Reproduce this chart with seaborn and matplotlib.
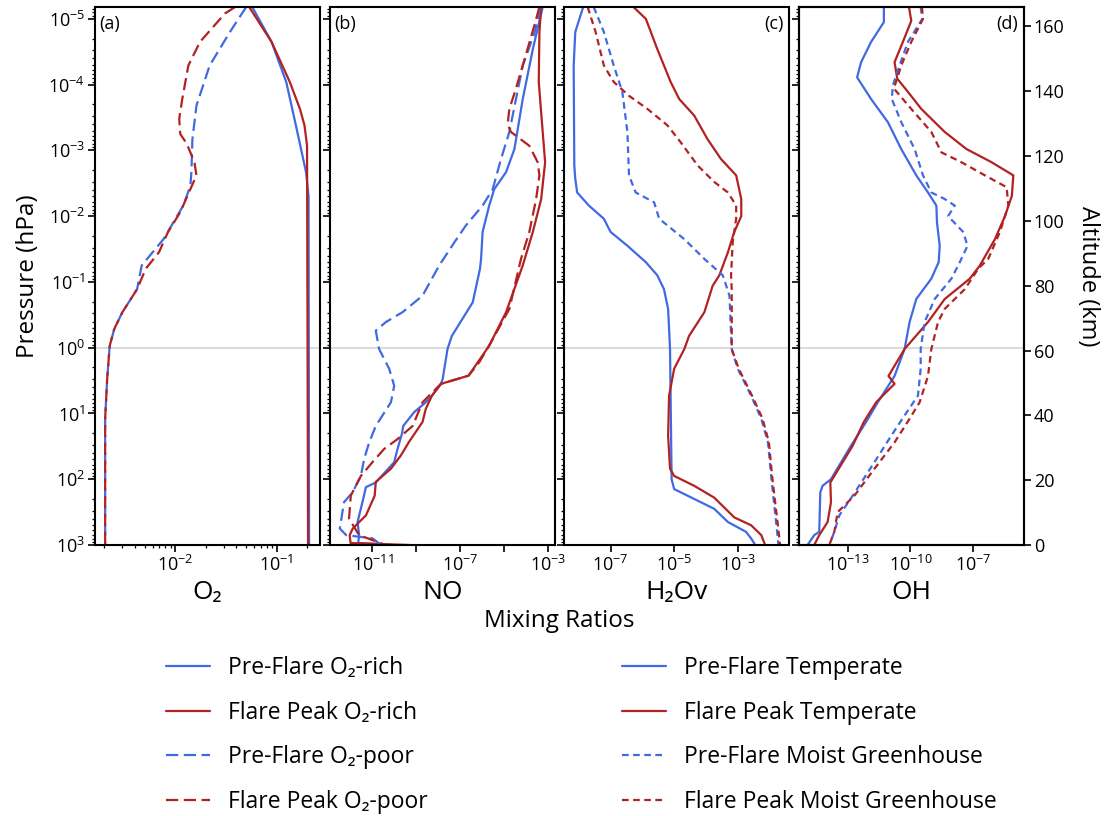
import numpy as np
import pandas as pd
import matplotlib
matplotlib.use("Agg")
import matplotlib.pyplot as plt
import seaborn as sns
from matplotlib.lines import Line2D
from matplotlib.ticker import FixedLocator, NullLocator, FixedFormatter

sns.set_theme(style="ticks")
FAMILY = ["Open Sans", "DejaVu Sans"]
plt.rcParams["font.family"] = FAMILY
plt.rcParams["mathtext.fontset"] = "custom"
plt.rcParams["mathtext.rm"] = "Open Sans"
plt.rcParams["mathtext.it"] = "Open Sans"
plt.rcParams["mathtext.default"] = "regular"
for key in ["text.color", "axes.labelcolor", "xtick.color", "ytick.color", "axes.edgecolor"]:
    plt.rcParams[key] = "black"

# ---------------- data (log10 of pressure in hPa, log10 of mixing ratio) ----------------
# (a) O2
o2_pre_rich_logp = [-5.18, -4.65, -4.04, -3.38, -2.67, -2.3, 3.0]
o2_pre_rich_logx = [-1.24, -1.05, -0.905, -0.81, -0.71, -0.685, -0.68]
o2_flare_rich_logp = [-5.18, -4.65, -4.04, -3.63, -3.38, -3.07, 3.0]
o2_flare_rich_logx = [-1.27, -1.05, -0.87, -0.77, -0.725, -0.70, -0.69]
o2_pre_poor_logp = [-5.18, -4.8, -4.29, -3.68, -3.17, -2.67, -2.46, -2.16, -1.65, -1.25,
                    -0.89, -0.54, -0.285, -0.03, 0.475, 1.08, 3.0]
o2_pre_poor_logx = [-1.30, -1.46, -1.66, -1.79, -1.83, -1.84, -1.85, -1.92, -2.115, -2.33,
                    -2.375, -2.52, -2.60, -2.645, -2.67, -2.69, -2.69]
o2_flare_poor_logp = [-5.18, -5.08, -4.65, -4.29, -3.78, -3.48, -3.25, -3.10, -2.82, -2.62,
                      -2.41, -2.06, -1.76, -1.45, -1.2, -0.89, -0.54, -0.285, -0.03, 0.475,
                      1.08, 3.0]
o2_flare_poor_logx = [-1.41, -1.51, -1.755, -1.87, -1.93, -1.96, -1.95, -1.885, -1.81, -1.79,
                      -1.85, -1.95, -2.07, -2.16, -2.29, -2.375, -2.52, -2.60, -2.645, -2.67,
                      -2.69, -2.69]

# (b) NO
no_pre_rich_logp = [-5.18, -4.54, -3.78, -3.02, -2.67, -2.41, -2.16, -1.76, -1.35, -1.2,
                    -0.69, -0.18, 0.02, 0.475, 0.55, 0.73, 0.83, 0.98, 1.19, 1.3,
                    1.54, 1.74, 2.05, 2.12, 2.35, 2.65, 2.85, 2.97, 3.0]
no_pre_rich_logx = [-3.24, -3.69, -4.15, -4.53, -4.91, -5.45, -5.68, -5.98, -6.05, -6.1,
                    -6.43, -7.38, -7.58, -7.80, -7.88, -8.29, -8.57, -9.1, -9.6, -9.65,
                    -9.86, -10.01, -10.85, -11.3, -11.46, -11.68, -11.61, -11.65, -10.0]
no_flare_rich_logp = [-5.18, -4.8, -4.04, -3.28, -2.82, -2.26, -1.76, -1.25, -0.54, -0.03,
                      0.425, 0.55, 0.73, 0.93, 1.13, 1.43, 1.64, 1.84, 2.04, 2.25,
                      2.55, 2.75, 2.85, 2.97, 3.0]
no_flare_rich_logx = [-3.31, -3.39, -3.42, -3.24, -3.13, -3.31, -3.69, -4.15, -4.91, -5.68,
                      -6.62, -7.88, -8.29, -8.57, -8.72, -9.33, -9.71, -10.16, -10.85, -10.9,
                      -11.3, -11.9, -12.04, -12.0, -9.3]
no_pre_poor_logp = [-5.18, -4.8, -4.29, -3.78, -3.28, -2.87, -2.41, -2.16, -1.86, -1.60,
                    -1.25, -0.79, -0.54, -0.39, -0.26, 0.02, 0.32, 0.58, 0.83, 1.19,
                    1.44, 1.69, 1.95, 2.2, 2.35, 2.75, 2.85, 2.9, 3.0]
no_pre_poor_logx = [-3.35, -3.6, -4.15, -4.46, -4.76, -5.14, -5.52, -5.98, -6.74, -7.27,
                    -7.96, -8.72, -9.63, -10.39, -10.85, -10.70, -10.24, -10.01, -10.16, -10.85,
                    -11.15, -11.38, -11.53, -11.91, -12.3, -12.49, -12.2, -11.0, -10.6]
no_flare_poor_logp = [-5.18, -4.9, -4.29, -3.94, -3.63, -3.40, -3.28, -3.07, -2.82, -2.62,
                      -2.26, -1.76, -1.35, -0.59, -0.08, 0.22, 0.425, 0.55, 0.83, 1.19,
                      1.39, 1.54, 1.74, 1.95, 2.25, 2.60, 2.85, 3.0]
no_flare_poor_logx = [-3.39, -3.62, -4.15, -4.46, -4.76, -4.84, -4.69, -3.85, -3.47, -3.39,
                      -3.54, -3.85, -4.23, -4.76, -5.6, -6.13, -6.62, -7.88, -8.72, -9.17,
                      -9.86, -10.47, -11.0, -11.53, -11.99, -12.07, -11.61, -10.4]

# (c) H2O vapour
h2o_pre_temp_logp = [-5.18, -4.80, -4.29, -2.77, -2.57, -2.36, -2.16, -1.96, -1.76, -1.55,
                     -1.30, -1.10, -0.89, -0.59, 0.02, 2.0, 2.15, 2.30, 2.45, 2.65,
                     2.80, 2.90, 3.0]
h2o_pre_temp_logx = [-7.86, -8.11, -8.16, -8.14, -8.11, -8.05, -7.68, -7.21, -7.0, -6.47,
                     -5.89, -5.53, -5.32, -5.19, -5.13, -5.08, -5.0, -4.37, -3.74, -3.31,
                     -2.74, -2.58, -2.45]
h2o_flare_temp_logp = [-5.18, -5.0, -4.54, -4.04, -3.78, -3.53, -3.17, -2.87, -2.62, -2.26,
                       -2.0, -1.76, -1.45, -1.10, -0.94, -0.54, -0.18, 0.02, 0.32, 0.73,
                       1.34, 1.84, 1.95, 2.10, 2.28, 2.58, 2.70, 2.85, 3.0]
h2o_flare_temp_logx = [-6.28, -5.89, -5.53, -5.11, -4.84, -4.37, -3.95, -3.53, -3.05, -2.89,
                       -2.89, -3.11, -3.31, -3.58, -3.79, -4.05, -4.53, -4.68, -5.0, -5.16,
                       -5.19, -5.13, -5.0, -4.37, -3.74, -3.11, -2.58, -2.26, -2.14]
h2o_pre_moist_logp = [-5.18, -4.80, -4.29, -3.89, -3.28, -2.62, -2.36, -2.21, -1.96, -1.65,
                      -1.35, -1.10, -0.79, 0.02, 0.32, 0.73, 1.08, 1.44, 1.95, 2.45,
                      2.90, 3.0]
h2o_pre_moist_logx = [-7.53, -7.21, -6.90, -6.63, -6.47, -6.42, -6.21, -5.63, -5.47, -4.68,
                      -4.05, -3.47, -3.26, -3.19, -3.0, -2.58, -2.26, -2.05, -1.95, -1.84,
                      -1.74, -1.72]
h2o_flare_moist_logp = [-5.18, -4.80, -4.29, -4.04, -3.83, -3.63, -3.38, -3.12, -2.77, -2.52,
                        -2.36, -2.16, -1.96, -1.60, -1.10, -0.89, 0.02, 0.32, 0.73, 1.08,
                        1.44, 1.95, 2.45, 2.90, 3.0]
h2o_flare_moist_logx = [-7.72, -7.47, -7.21, -6.90, -6.42, -5.84, -5.21, -4.79, -4.26, -3.74,
                        -3.31, -3.05, -3.05, -3.16, -3.21, -3.19, -3.19, -2.97, -2.55, -2.22,
                        -2.02, -1.92, -1.80, -1.69, -1.67]

# (d) OH
oh_pre_temp_logp = [-5.18, -4.95, -4.65, -4.34, -4.11, -3.78, -3.43, -3.02, -2.62, -2.36,
                    -2.16, -1.9, -1.55, -1.3, -1.05, -0.74, -0.39, 0.02, 0.43, 0.83,
                    1.13, 1.49, 2.0, 2.10, 2.20, 2.80, 2.85, 3.0]
oh_pre_temp_logx = [-11.27, -11.27, -11.88, -12.36, -12.55, -11.88, -11.08, -10.44, -9.72, -9.16,
                    -8.76, -8.73, -8.6, -8.65, -9.0, -9.72, -10.04, -10.28, -10.76, -11.56,
                    -12.12, -12.84, -13.80, -14.2, -14.31, -14.36, -14.6, -14.92]
oh_flare_temp_logp = [-5.18, -4.97, -4.65, -4.34, -4.09, -3.89, -3.63, -3.28, -3.02, -2.82,
                      -2.62, -2.31, -2.0, -1.65, -1.25, -1.05, -0.74, -0.39, 0.02, 0.43,
                      0.55, 0.83, 1.13, 1.49, 2.05, 2.35, 2.65, 2.85, 3.0]
oh_flare_temp_logx = [-10.07, -9.96, -10.36, -10.76, -10.63, -10.12, -9.48, -8.36, -7.32, -6.12,
                      -5.08, -5.15, -5.48, -5.96, -6.68, -7.16, -8.36, -9.16, -10.28, -11.05,
                      -10.76, -11.64, -12.23, -12.76, -13.83, -13.8, -13.96, -14.36, -14.6]
oh_pre_moist_logp = [-5.18, -5.0, -4.65, -4.29, -3.99, -3.78, -3.43, -3.02, -2.62, -2.36,
                     -2.26, -2.16, -2.0, -1.76, -1.55, -1.3, -1.05, -0.74, -0.39, 0.02,
                     0.32, 0.73, 1.03, 1.34, 1.74, 2.25, 2.55, 2.80, 3.0]
oh_pre_moist_logx = [-9.51, -9.43, -10.12, -10.52, -10.84, -10.89, -10.44, -9.8, -9.4, -9.0,
                     -8.36, -7.88, -8.2, -7.48, -7.27, -7.64, -8.04, -8.84, -9.32, -9.51,
                     -9.51, -9.64, -10.28, -10.92, -11.72, -12.76, -13.40, -13.64, -13.88]
oh_flare_moist_logp = [-5.18, -5.0, -4.65, -4.29, -3.94, -3.63, -3.28, -2.97, -2.82, -2.62,
                       -2.44, -2.16, -1.76, -1.35, -1.2, -0.89, -0.59, -0.39, 0.02, 0.43,
                       0.83, 1.08, 1.44, 1.84, 2.25, 2.50, 2.80, 3.0]
oh_flare_moist_logx = [-9.45, -9.40, -9.96, -10.44, -10.79, -9.96, -9.0, -8.52, -7.56, -6.44,
                       -5.40, -5.32, -5.72, -6.28, -6.76, -7.40, -8.36, -8.68, -9.0, -9.16,
                       -9.56, -10.04, -10.76, -11.72, -12.68, -13.48, -13.64, -13.88]

species_labels = ["O₂", "NO", "H₂Ov", "OH"]
panel_tags = ["(a)", "(b)", "(c)", "(d)"]
series_o2 = ["Pre-Flare O₂-rich", "Flare Peak O₂-rich", "Pre-Flare O₂-poor", "Flare Peak O₂-poor"]
series_tm = ["Pre-Flare Temperate", "Flare Peak Temperate",
             "Pre-Flare Moist Greenhouse", "Flare Peak Moist Greenhouse"]
pressure_ticks_exp = [-5, -4, -3, -2, -1, 0, 1, 2, 3]
altitude_ticks = [0, 20, 40, 60, 80, 100, 120, 140, 160]

# x axis limits (log10) and tick exponents per panel
xlims_exp = [(-2.79, -0.574), (-12.95, -2.70), (-8.45, -1.38), (-15.32, -4.57)]
xticks_exp = [None, [-13, -11, -9, -7, -5, -3], [-9, -7, -5, -3], [-13, -10, -7]]
xlabels_exp = [None, ["", "-11", "", "-7", "", "-3"], ["", "-7", "-5", "-3"], ["-13", "-10", "-7"]]

BLUE = "#4169E1"
RED = "#B22222"
LW = 1.6
LONG = (5.5, 2.5)
SHORT = (3.0, 2.0)

panel_curves = [
    {series_o2[0]: (o2_pre_rich_logp, o2_pre_rich_logx),
     series_o2[1]: (o2_flare_rich_logp, o2_flare_rich_logx),
     series_o2[2]: (o2_pre_poor_logp, o2_pre_poor_logx),
     series_o2[3]: (o2_flare_poor_logp, o2_flare_poor_logx)},
    {series_o2[0]: (no_pre_rich_logp, no_pre_rich_logx),
     series_o2[1]: (no_flare_rich_logp, no_flare_rich_logx),
     series_o2[2]: (no_pre_poor_logp, no_pre_poor_logx),
     series_o2[3]: (no_flare_poor_logp, no_flare_poor_logx)},
    {series_tm[0]: (h2o_pre_temp_logp, h2o_pre_temp_logx),
     series_tm[1]: (h2o_flare_temp_logp, h2o_flare_temp_logx),
     series_tm[2]: (h2o_pre_moist_logp, h2o_pre_moist_logx),
     series_tm[3]: (h2o_flare_moist_logp, h2o_flare_moist_logx)},
    {series_tm[0]: (oh_pre_temp_logp, oh_pre_temp_logx),
     series_tm[1]: (oh_flare_temp_logp, oh_flare_temp_logx),
     series_tm[2]: (oh_pre_moist_logp, oh_pre_moist_logx),
     series_tm[3]: (oh_flare_moist_logp, oh_flare_moist_logx)},
]

palette = {series_o2[0]: BLUE, series_o2[1]: RED, series_o2[2]: BLUE, series_o2[3]: RED,
           series_tm[0]: BLUE, series_tm[1]: RED, series_tm[2]: BLUE, series_tm[3]: RED}
dashes = {series_o2[0]: "", series_o2[1]: "", series_o2[2]: LONG, series_o2[3]: LONG,
          series_tm[0]: "", series_tm[1]: "", series_tm[2]: SHORT, series_tm[3]: SHORT}

# ---------------- figure ----------------
W, H = 1106, 816
fig = plt.figure(figsize=(W / 100, H / 100), dpi=100)
gs = fig.add_gridspec(1, 4, left=95 / W, right=1024 / W, bottom=1 - 545 / H, top=1 - 7 / H,
                      wspace=0.044)
axes = [fig.add_subplot(gs[0, i]) for i in range(4)]

for i, ax in enumerate(axes):
    ax.set_xscale("log")
    ax.set_yscale("log")
    rows = []
    for name, (lp, lx) in panel_curves[i].items():
        for k, (p, x) in enumerate(zip(lp, lx)):
            rows.append({"series": name, "order": k, "pressure": 10.0 ** p, "mixing": 10.0 ** x})
    df = pd.DataFrame(rows)
    ax.axhline(1.0, color="#dcdcdc", lw=1.5, zorder=0)
    sns.lineplot(data=df, x="mixing", y="pressure", hue="series", style="series",
                 palette=palette, dashes=dashes, sort=False, estimator=None,
                 units="series", linewidth=LW, legend=False, ax=ax)
    ax.set_ylim(10.0 ** 3, 10.0 ** -5.18)
    lo, hi = xlims_exp[i]
    ax.set_xlim(10.0 ** lo, 10.0 ** hi)
    if xticks_exp[i] is not None:
        ax.xaxis.set_major_locator(FixedLocator([10.0 ** e for e in xticks_exp[i]]))
        ax.xaxis.set_major_formatter(FixedFormatter(
            [(r"$10^{%s}$" % s) if s else "" for s in xlabels_exp[i]]))
        ax.xaxis.set_minor_locator(NullLocator())
    ax.yaxis.set_major_locator(FixedLocator([10.0 ** e for e in pressure_ticks_exp]))
    ax.set_xlabel(species_labels[i], fontsize=19, labelpad=4, color="black")
    ax.set_ylabel("")
    ax.tick_params(axis="both", which="major", direction="out", length=5, width=1.2,
                   labelsize=13, colors="black", pad=2)
    ax.tick_params(axis="both", which="minor", direction="out", length=2.5, width=0.9,
                   colors="black")
    if i > 0:
        ax.tick_params(axis="y", which="both", labelleft=False)
    for sp in ax.spines.values():
        sp.set_linewidth(1.5)
        sp.set_color("black")
    if i in (0, 1):
        ax.text(0.02, 0.985, panel_tags[i], transform=ax.transAxes, ha="left", va="top",
                fontsize=13)
    else:
        ax.text(0.975, 0.985, panel_tags[i], transform=ax.transAxes, ha="right", va="top",
                fontsize=13)

axes[0].yaxis.set_major_formatter(FixedFormatter([r"$10^{%d}$" % e for e in pressure_ticks_exp]))
axes[0].set_ylabel("Pressure (hPa)", fontsize=17.5, labelpad=6)

ax2 = axes[3].twinx()
ax2.set_ylim(0, 166)
ax2.set_yticks(altitude_ticks)
ax2.tick_params(axis="y", direction="out", length=5, width=1.2, labelsize=13, pad=2,
                colors="black")
ax2.set_ylabel("Altitude (km)", fontsize=17, rotation=270, va="bottom", labelpad=8)
for sp in ax2.spines.values():
    sp.set_linewidth(1.5)
    sp.set_color("black")

fig.text(559.5 / W, 1 - 621 / H, "Mixing Ratios", ha="center", va="center", fontsize=17.5)

# ---------------- legends ----------------
def handles_for(names):
    return [Line2D([0], [0], color=palette[n], lw=LW,
                   linestyle=(0, dashes[n]) if dashes[n] else "-") for n in names]

leg_kw = dict(loc="upper left", frameon=False, fontsize=16.5, handlelength=1.9,
              handletextpad=0.8, labelspacing=0.9, borderpad=0, borderaxespad=0)
fig.legend(handles_for(series_o2), series_o2, bbox_to_anchor=(166 / W, 1 - 656 / H), **leg_kw)
fig.legend(handles_for(series_tm), series_tm, bbox_to_anchor=(622 / W, 1 - 656 / H), **leg_kw)

fig.savefig("out.png", dpi=100)
